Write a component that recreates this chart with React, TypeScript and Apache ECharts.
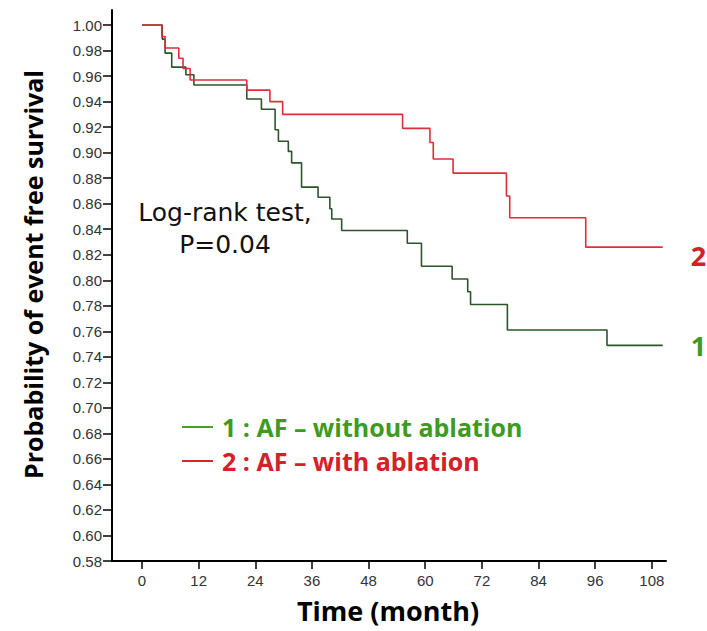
import React, { useEffect, useRef } from "react";
import * as echarts from "echarts";

// Group 1: AF without ablation (time in months, survival probability)
const months1 = [0, 4.3, 4.9, 6.3, 9.3, 11.0, 22.2, 25.3, 28.2, 28.9, 31.0, 31.7, 33.8, 37.3, 39.8, 40.2, 42.3, 56.2, 59.2, 65.7, 69.0, 69.6, 77.4, 98.5, 110.3];
const surv1 = [1.0, 0.989, 0.978, 0.967, 0.961, 0.953, 0.942, 0.934, 0.918, 0.909, 0.901, 0.892, 0.873, 0.865, 0.856, 0.848, 0.839, 0.829, 0.811, 0.801, 0.791, 0.781, 0.761, 0.749, 0.749];

// Group 2: AF with ablation
const months2 = [0, 4.2, 4.9, 7.8, 8.7, 10.2, 22.2, 27.1, 29.8, 55.2, 61.0, 61.7, 65.9, 77.2, 77.9, 94.0, 110.3];
const surv2 = [1.0, 0.991, 0.982, 0.974, 0.966, 0.957, 0.949, 0.94, 0.93, 0.919, 0.908, 0.895, 0.884, 0.866, 0.849, 0.826, 0.826];

const xTicks = [0, 12, 24, 36, 48, 60, 72, 84, 96, 108];
const yTicks = [0.58, 0.6, 0.62, 0.64, 0.66, 0.68, 0.7, 0.72, 0.74, 0.76, 0.78, 0.8, 0.82, 0.84, 0.86, 0.88, 0.9, 0.92, 0.94, 0.96, 0.98, 1.0];

const name1 = "1 : AF – without ablation";
const name2 = "2 : AF – with ablation";

export default function App() {
  const ref = useRef<HTMLDivElement>(null);
  useEffect(() => {
    if (!ref.current) return;
    const chart = echarts.init(ref.current, undefined, { renderer: "svg" });
    const d1 = months1.map((m, i) => [m, surv1[i]]);
    const d2 = months2.map((m, i) => [m, surv2[i]]);
    const tickLabelStyle = {
      fontFamily: "Liberation Sans",
      fontSize: 15,
      color: "#333333",
    };
    chart.setOption({
      animation: false,
      backgroundColor: "#ffffff",
      grid: { left: 112, right: 41, top: 10, bottom: 70 },
      xAxis: {
        type: "value",
        min: -6.35,
        max: 111,
        axisLine: { show: true, onZero: false, lineStyle: { color: "#000", width: 2 } },
        axisTick: { show: true, customValues: xTicks, length: 8, lineStyle: { color: "#000", width: 1.5 } },
        axisLabel: { show: true, customValues: xTicks, margin: 12, ...tickLabelStyle },
        splitLine: { show: false },
      },
      yAxis: {
        type: "value",
        min: 0.58,
        max: 1.0118,
        axisLine: { show: true, onZero: false, lineStyle: { color: "#000", width: 2 } },
        axisTick: { show: true, customValues: yTicks, length: 9, lineStyle: { color: "#000", width: 1.5 } },
        axisLabel: {
          show: true,
          customValues: yTicks,
          margin: 10,
          formatter: (v: number) => v.toFixed(2),
          ...tickLabelStyle,
        },
        splitLine: { show: false },
      },
      legend: {
        orient: "vertical",
        left: 182,
        top: 412,
        padding: 0,
        itemGap: 4,
        itemWidth: 31,
        itemHeight: 2,
        icon: "rect",
        selectedMode: false,
        textStyle: {
          fontFamily: "Open Sans",
          fontWeight: "bold",
          fontSize: 25,
          lineHeight: 30,
          padding: [0, 0, 0, 4],
        },
        data: [
          { name: name1, itemStyle: { color: "#4a9e2a" }, textStyle: { color: "#3f9a22" } },
          { name: name2, itemStyle: { color: "#d9262c" }, textStyle: { color: "#d42027" } },
        ],
      },
      graphic: [
        {
          type: "text",
          x: 225,
          y: 196,
          style: {
            text: "Log-rank test,\nP=0.04",
            fontFamily: "DejaVu Sans",
            fontSize: 25,
            lineHeight: 32,
            fill: "#111",
            align: "center",
            verticalAlign: "top",
          },
        },
        {
          type: "text",
          x: 33,
          y: 274.5,
          rotation: Math.PI / 2,
          style: {
            text: "Probability of event free survival",
            fontFamily: "Open Sans",
            fontWeight: "bold",
            fontSize: 25,
            fill: "#000",
            align: "center",
            verticalAlign: "middle",
          },
        },
        {
          type: "text",
          x: 388,
          y: 610,
          style: {
            text: "Time (month)",
            fontFamily: "Open Sans",
            fontWeight: "bold",
            fontSize: 27,
            lineHeight: 30,
            fill: "#000",
            align: "center",
            verticalAlign: "middle",
          },
        },
      ],
      series: [
        {
          name: name1,
          type: "line",
          step: "end",
          data: d1,
          showSymbol: false,
          symbol: "none",
          lineStyle: { color: "#2c552c", width: 1.6 },
          itemStyle: { color: "#2c552c" },
          endLabel: {
            show: true,
            formatter: "1",
            distance: 28,
            color: "#3f9a22",
            fontFamily: "Open Sans",
            fontWeight: "bold",
            fontSize: 27,
          },
          z: 2,
        },
        {
          name: name2,
          type: "line",
          step: "end",
          data: d2,
          showSymbol: false,
          symbol: "none",
          lineStyle: { color: "#dc3038", width: 1.6 },
          itemStyle: { color: "#dc3038" },
          endLabel: {
            show: true,
            formatter: "2",
            distance: 28,
            offset: [0, 8],
            color: "#d42027",
            fontFamily: "Open Sans",
            fontWeight: "bold",
            fontSize: 27,
          },
          z: 3,
        },
      ],
    });
    return () => chart.dispose();
  }, []);
  return (
    <div
      ref={ref}
      style={{ position: "absolute", left: 0, top: 0, width: 707, height: 631 }}
    />
  );
}
